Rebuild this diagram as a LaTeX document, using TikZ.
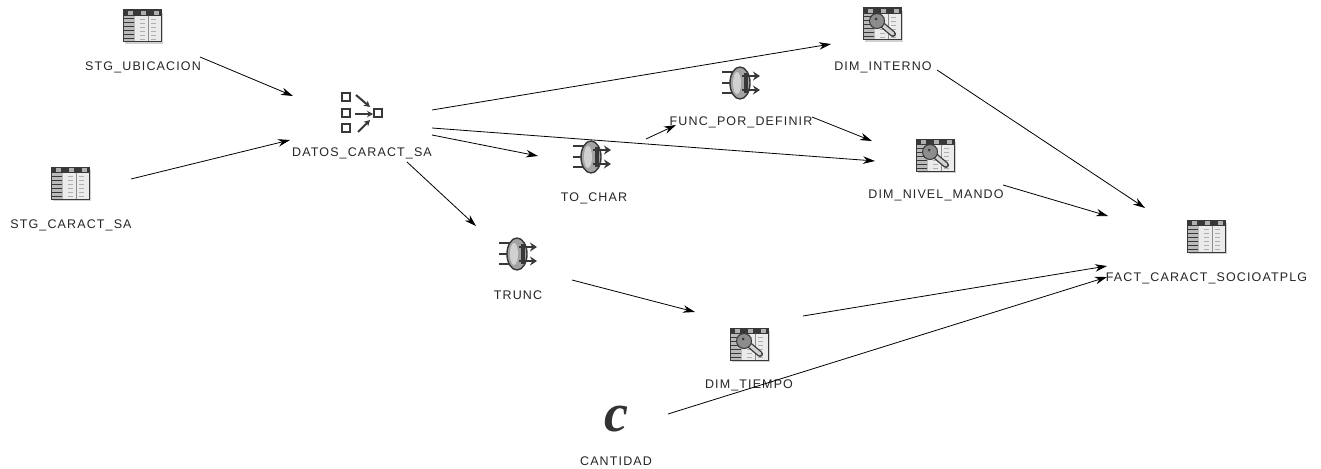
\documentclass[tikz,border=0pt]{standalone}
\usepackage{fontspec}
\setmainfont{Liberation Sans}
\newfontfamily\labelfont[LetterSpace=9]{Liberation Sans}
\newfontfamily\cfont{Liberation Serif}
\usetikzlibrary{arrows.meta}
\definecolor{icodark}{gray}{0.22}
\definecolor{icomid}{gray}{0.55}
\definecolor{icolight}{gray}{0.82}
\tikzset{
  x=1pt,y=-1pt,
  conn/.style={draw=black,line width=0.8pt,-{Stealth[length=12pt,width=7.5pt]}},
  txt/.style={inner sep=0pt,text height=9pt,text depth=0pt,font=\labelfont\fontsize{12.5}{14}\selectfont,text=black!85},
  ico/.style={inner sep=0pt,minimum width=38pt,minimum height=33pt},
  tablebase/.pic={
    \fill[icolight] (-17,-13) rectangle (21,18);
    \fill[white!92!black] (-19,-16) rectangle (19,16);
    \fill[icodark] (-19,-16) rectangle (19,-10);
    \foreach \a in {-14,-1,12}{\fill[icomid!70] (\a,-15) rectangle ++(5,4);}
    \fill[icomid!60] (-19,-10) rectangle (-7,16);
    \foreach \b in {-7,-3,1,5,9,13}{
      \draw[icodark,line width=1pt] (-19,\b) -- (-8,\b);
      \draw[icomid!70,line width=0.8pt] (-2,\b) -- (3,\b);
      \draw[icomid!70,line width=0.8pt] (9,\b) -- (14,\b);}
    \draw[icomid,line width=0.6pt] (6,-10) -- (6,16);
    \draw[icodark,line width=1pt] (-19,-16) rectangle (19,16);
  },
  keyicon/.pic={
    \pic {tablebase};
    \draw[icodark,line width=6pt,line cap=round] (-2,-1) -- (11,10);
    \draw[icolight,line width=3.4pt,line cap=round] (-2,-1) -- (11,10);
    \draw[icodark,line width=1pt,fill=icomid] (-5,-3) circle (7.5);
    \fill[icodark] (-6,-5) circle (1.5);
  },
  funcicon/.pic={
    \foreach \b in {-11,0,10}{\draw[icodark,line width=2pt] (-19,\b) -- (-6,\b);}
    \fill[icomid!80,draw=icodark,line width=1.4pt] (-1,0) ellipse (10 and 16);
    \fill[icolight] (-4,0) ellipse (4 and 11);
    \fill[icodark] (3,-10) rectangle (7,10);
    \foreach \b in {-7,7}{\draw[icodark,line width=2pt,-{Stealth[length=7pt,width=9pt]}] (1,\b) -- (19,\b);}
  },
  joinicon/.pic={
    \foreach \p in {(-14,-15),(-14,1),(-14,16),(18,1)}{\draw[icodark,line width=1.3pt,fill=white] \p ++(-4,-4) rectangle ++(8,8);}
    \draw[icodark,line width=2pt,-{Stealth[length=6pt,width=6.5pt]}] (-4,-17) -- (10,-5);
    \draw[icodark,line width=2pt,-{Stealth[length=6pt,width=6.5pt]}] (-5,2) -- (13,2);
    \draw[icodark,line width=2pt,-{Stealth[length=6pt,width=6.5pt]}] (-2,20) -- (10,8);
  },
}
\begin{document}
\begin{tikzpicture}
\useasboundingbox (0,0) rectangle (1321,468);
\fill[white] (0,0) rectangle (1321,468);
% icon holders
\node[ico] (ub) at (142,26) {};  \pic at (ub) {tablebase};
\node[ico] (sa) at (70,183) {};  \pic at (sa) {tablebase};
\node[ico] (da) at (360,112) {}; \pic at (da) {joinicon};
\node[ico] (tc) at (592,157) {}; \pic at (tc) {funcicon};
\node[ico] (tr) at (518,254) {}; \pic at (tr) {funcicon};
\node[ico] (fu) at (741,83) {};  \pic at (fu) {funcicon};
\node[ico] (di) at (882,24) {};  \pic at (di) {keyicon};
\node[ico] (dn) at (935,155) {}; \pic at (dn) {keyicon};
\node[ico] (dt) at (749,344) {}; \pic at (dt) {keyicon};
\node[ico] (fa) at (1206,236) {}; \pic at (fa) {tablebase};
\node[inner sep=0pt,font=\cfont\bfseries\itshape\fontsize{54}{54}\selectfont,text=black!80] (ca) at (616,419) {c};
% labels
\node[txt] (ubl) at (143,66) {STG\_UBICACION};
\node[txt] (sal) at (71,224) {STG\_CARACT\_SA};
\node[txt] (dal) at (362,152) {DATOS\_CARACT\_SA};
\node[txt] (tcl) at (594,197) {TO\_CHAR};
\node[txt] (trl) at (518,295) {TRUNC};
\node[txt] (ful) at (741,121) {FUNC\_POR\_DEFINIR};
\node[txt] (dil) at (883,66) {DIM\_INTERNO};
\node[txt] (dnl) at (936,194) {DIM\_NIVEL\_MANDO};
\node[txt] (dtl) at (749,384) {DIM\_TIEMPO};
\node[txt] (fal) at (1206.5,277) {FACT\_CARACT\_SOCIOATPLG};
\node[txt] (cal) at (616,461) {CANTIDAD};
% connectors (nodes named, small offsets reproduce the gaps of the original)
\draw[conn] ([shift={(57,-9)}]ubl.center) -- ([shift={(-67,-16)}]da.center);
\draw[conn] ([shift={(61,-4)}]sa.center) -- ([shift={(-70,28)}]da.center);
\draw[conn] ([shift={(72,-2)}]da.center) -- ([shift={(-51,20)}]di.center);
\draw[conn] ([shift={(72,16)}]da.center) -- ([shift={(-60,6)}]dn.center);
\draw[conn] ([shift={(72,23)}]da.center) -- ([shift={(-54,-1)}]tc.center);
\draw[conn] ([shift={(45,10)}]dal.center) -- ([shift={(-42,-28)}]tr.center);
\draw[conn] ([shift={(54,-18)}]tc.center) -- ([shift={(-65,4)}]ful.center);
\draw[conn] ([shift={(71,-4)}]ful.center) -- ([shift={(-63,-14)}]dn.center);
\draw[conn] ([shift={(55,46)}]di.center) -- ([shift={(-61,-28)}]fa.center);
\draw[conn] ([shift={(67,-9)}]dnl.center) -- ([shift={(-98,-20)}]fa.center);
\draw[conn] ([shift={(54,26)}]tr.center) -- ([shift={(-54,-32)}]dt.center);
\draw[conn] ([shift={(54,-28)}]dt.center) -- ([shift={(-99,30)}]fa.center);
\draw[conn] ([shift={(52,-5)}]ca.center) -- ([shift={(-99,41)}]fa.center);
\end{tikzpicture}
\end{document}
